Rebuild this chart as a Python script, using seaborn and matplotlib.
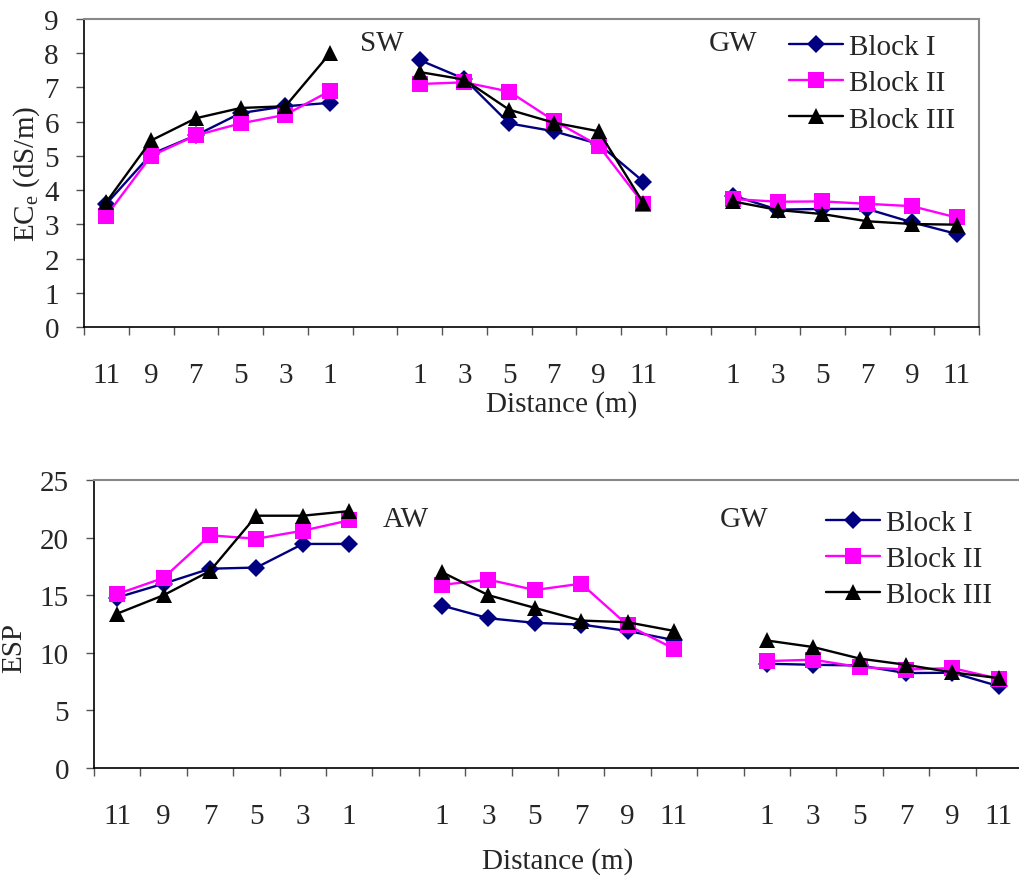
import numpy as np
import pandas as pd
import seaborn as sns
import matplotlib.pyplot as plt
from matplotlib.lines import Line2D

# distances (m) for the three groups of each panel
left_dist = [11, 9, 7, 5, 3, 1]
right_dist = [1, 3, 5, 7, 9, 11]
blocks = ['Block I', 'Block II', 'Block III']

# ECe (dS/m), groups: left, middle, right
ece_block1 = [3.6, 5.05, 5.6, 6.25, 6.45, 6.55, 7.8, 7.25, 5.95, 5.72, 5.35, 4.25, 3.84, 3.43, 3.45, 3.45, 3.06, 2.72]
ece_block2 = [3.25, 5.0, 5.6, 5.95, 6.2, 6.9, 7.1, 7.15, 6.88, 6.03, 5.3, 3.6, 3.74, 3.66, 3.67, 3.6, 3.53, 3.2]
ece_block3 = [3.65, 5.45, 6.1, 6.4, 6.45, 8.0, 7.45, 7.23, 6.35, 5.97, 5.72, 3.62, 3.67, 3.42, 3.3, 3.09, 3.01, 2.99]

# ESP
esp_block1 = [14.8, 16.0, 17.3, 17.4, 19.45, 19.45, 14.1, 13.0, 12.6, 12.45, 11.9, 11.1, 9.05, 8.96, 8.9, 8.24, 8.27, 7.1]
esp_block2 = [15.1, 16.5, 20.2, 19.9, 20.6, 21.5, 15.9, 16.35, 15.45, 16.0, 12.4, 10.35, 9.28, 9.4, 8.76, 8.55, 8.67, 7.75]
esp_block3 = [13.4, 15.0, 17.1, 21.9, 21.9, 22.3, 17.0, 15.0, 13.9, 12.8, 12.65, 11.9, 11.07, 10.5, 9.5, 8.96, 8.3, 7.8]

COLORS = {'Block I': '#000080', 'Block II': '#FF00FF', 'Block III': '#000000'}
MARKERS = {'Block I': 'D', 'Block II': 's', 'Block III': '^'}
SIZES = {'Block I': 9, 'Block II': 11.5, 'Block III': 12}

sns.set_style("ticks")
plt.rcParams['font.family'] = ['Liberation Serif', 'DejaVu Serif']
plt.rcParams['mathtext.fontset'] = 'custom'
plt.rcParams['mathtext.rm'] = 'Liberation Serif'
plt.rcParams['mathtext.it'] = 'Liberation Serif:italic'
FS = 21


def build_df(series):
    rows = []
    dists = left_dist + right_dist + right_dist
    for block, vals in zip(blocks, series):
        for k, v in enumerate(vals):
            grp = k // 6
            pos = grp * 7 + k % 6
            rows.append({'block': block, 'group': grp, 'pos': pos, 'dist': dists[k], 'value': v})
    return pd.DataFrame(rows)


def draw_panel(ax, df, ymax, ystep):
    for block in blocks:
        sub = df[df['block'] == block]
        for grp in range(3):
            seg = sub[sub['group'] == grp]
            sns.lineplot(data=seg, x='pos', y='value', ax=ax, color=COLORS[block],
                         marker=MARKERS[block], markersize=SIZES[block], markeredgewidth=0,
                         linewidth=1.7, sort=False, estimator=None, legend=False)
    ax.set_xlim(-0.5, 19.5)
    ax.set_ylim(0, ymax)
    ax.set_yticks(np.arange(0, ymax + 1, ystep))
    pos_labels = df[df['block'] == blocks[0]]
    ax.set_xticks(pos_labels['pos'])
    ax.set_xticklabels([str(d) for d in pos_labels['dist']])
    ax.set_xticks(np.arange(-0.5, 20, 1), minor=True)
    ax.tick_params(axis='x', which='major', length=0, pad=25, labelsize=FS)
    ax.tick_params(axis='x', which='minor', length=6, width=1, color='#555555')
    ax.tick_params(axis='y', length=6, width=1, pad=12, labelsize=FS, color='#555555')
    for s in ['top', 'right']:
        ax.spines[s].set_visible(True)
        ax.spines[s].set_color('#888888')
        ax.spines[s].set_linewidth(1.5)
    for s in ['left', 'bottom']:
        ax.spines[s].set_color('black')
        ax.spines[s].set_linewidth(1.2)


def add_legend(ax, anchor):
    handles = [Line2D([], [], color=COLORS[b], marker=MARKERS[b], markersize=SIZES[b],
                      markeredgewidth=0, linewidth=1.7) for b in blocks]
    ax.legend(handles, blocks, loc='upper left', bbox_to_anchor=anchor,
              bbox_transform=plt.gcf().transFigure, frameon=False,
              fontsize=FS, handlelength=1.85, handletextpad=0.2, labelspacing=0.33,
              borderaxespad=0, borderpad=0)


fig = plt.figure(figsize=(10.2, 8.78), dpi=100)
W, H = 1020, 878

ax1 = fig.add_axes([84 / W, (H - 328) / H, 895 / W, 308 / H])
df_ece = build_df([ece_block1, ece_block2, ece_block3])
draw_panel(ax1, df_ece, 9, 1)
ax1.set_xlabel('Distance (m)', fontsize=FS)
ax1.xaxis.set_label_coords(0.534, -0.205)
ax1.set_ylabel('EC$_\\mathrm{e}$ (dS/m)', fontsize=FS)
ax1.yaxis.set_label_coords(-0.047, 0.5)
ax1.text(6.16, 8.3, 'SW', fontsize=FS, ha='center', va='center')
ax1.text(14.0, 8.3, 'GW', fontsize=FS, ha='center', va='center')
add_legend(ax1, (789 / W, (H - 35) / H))

ax2 = fig.add_axes([94 / W, (H - 769) / H, 928 / W, 288 / H])
df_esp = build_df([esp_block1, esp_block2, esp_block3])
draw_panel(ax2, df_esp, 25, 5)
ax2.set_xlabel('Distance (m)', fontsize=FS)
ax2.xaxis.set_label_coords(0.5, -0.275)
ax2.set_ylabel('ESP', fontsize=FS)
ax2.yaxis.set_label_coords(-0.072, 0.42)
ax2.text(6.22, 21.6, 'AW', fontsize=FS, ha='center', va='center')
ax2.text(13.5, 21.6, 'GW', fontsize=FS, ha='center', va='center')
add_legend(ax2, (826 / W, (H - 511) / H))

fig.savefig('out.png', dpi=100)
